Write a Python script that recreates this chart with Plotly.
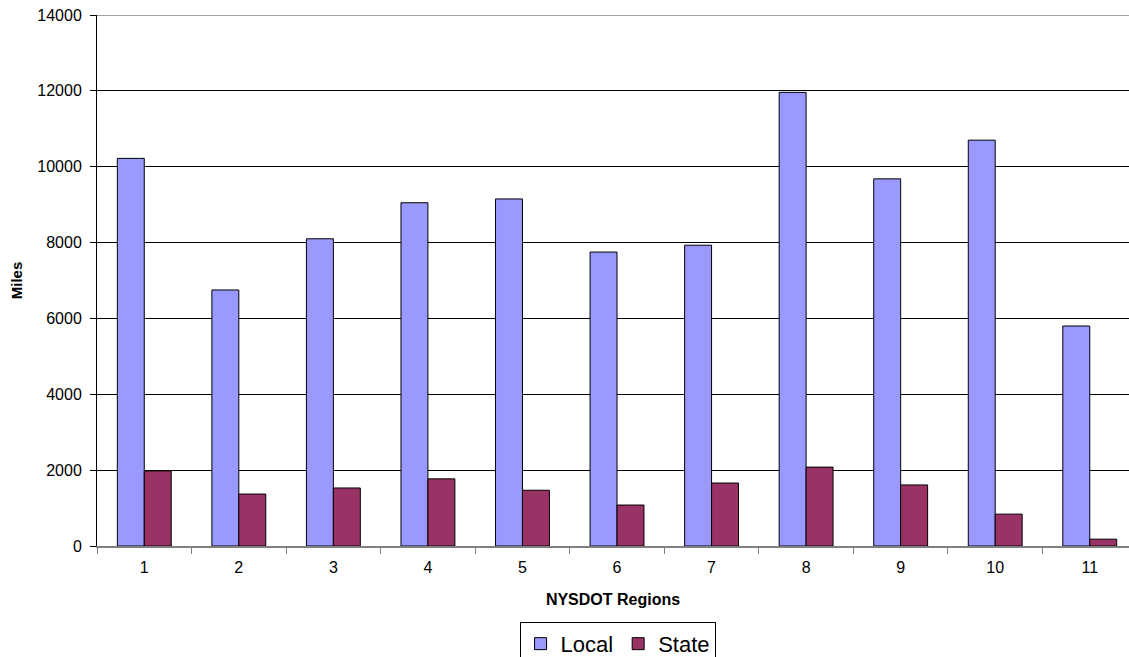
import plotly.graph_objects as go

regions = ["1", "2", "3", "4", "5", "6", "7", "8", "9", "10", "11"]
local_miles = [10220, 6750, 8100, 9050, 9150, 7750, 7930, 11960, 9680, 10700, 5800]
state_miles = [1980, 1370, 1530, 1770, 1470, 1080, 1660, 2080, 1610, 840, 180]
y_ticks = [0, 2000, 4000, 6000, 8000, 10000, 12000, 14000]

FONT = "Liberation Sans, Arial, sans-serif"

fig = go.Figure()
fig.add_trace(go.Bar(
    x=regions, y=local_miles, name="Local",
    marker=dict(color="#9999FF", line=dict(color="#000000", width=1)),
))
fig.add_trace(go.Bar(
    x=regions, y=state_miles, name="State",
    marker=dict(color="#993366", line=dict(color="#000000", width=1)),
))

fig.update_layout(
    width=1129, height=657,
    margin=dict(l=97, r=0, t=15, b=111, autoexpand=False),
    paper_bgcolor="white", plot_bgcolor="white",
    barmode="group", bargap=0.43, bargroupgap=0,
    font=dict(family=FONT, size=16, color="#000000"),
    showlegend=True,
    legend=dict(
        orientation="h",
        xref="container", x=0.547, xanchor="center",
        yref="container", y=0.0535, yanchor="top",
        font=dict(size=22, family=FONT),
        bordercolor="#000000", borderwidth=1, bgcolor="white",
        itemwidth=30, tracegroupgap=0,
    ),
    xaxis=dict(
        type="category", range=[-0.5, 10.415],
        tickson="boundaries", ticks="outside", ticklen=6, tickcolor="#808080",
        showline=True, linecolor="#808080", linewidth=2,
        showgrid=False,
        title=dict(text="<b>NYSDOT Regions</b>", font=dict(size=16), standoff=19),
        tickfont=dict(size=16),
        ticklabelstandoff=6,
    ),
    yaxis=dict(
        range=[0, 14000], tickvals=y_ticks, ticktext=[str(v) for v in y_ticks],
        ticks="outside", ticklen=6, tickcolor="#000000",
        showline=True, linecolor="#000000", linewidth=1,
        showgrid=True, gridcolor="#000000", gridwidth=1,
        zeroline=False,
        title=dict(text="<b>Miles</b>", font=dict(size=15), standoff=11),
        tickfont=dict(size=16),
        ticklabelstandoff=5,
    ),
)

# lighter top border of the plotting area
fig.add_shape(type="line", xref="paper", yref="y", x0=0, x1=1, y0=14000, y1=14000,
              line=dict(color="#A0A0A0", width=2))

fig.write_html("out.html")
